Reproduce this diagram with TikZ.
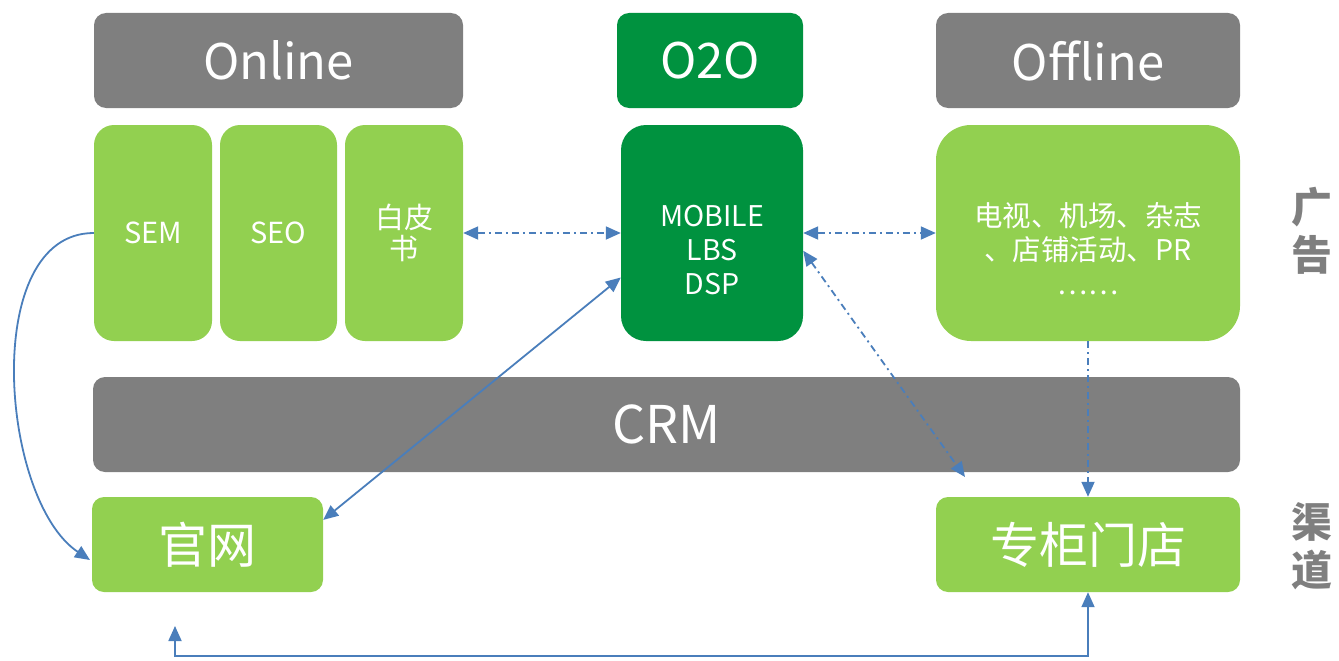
\documentclass[tikz,border=0pt]{standalone}
\usepackage{fontspec}
\setmainfont{Noto Sans CJK SC}
\usetikzlibrary{arrows.meta}

\definecolor{lgreen}{RGB}{146,208,80}
\definecolor{dgreen}{RGB}{0,146,63}
\definecolor{boxgray}{RGB}{127,127,127}
\definecolor{linkblue}{RGB}{74,126,187}

\tikzset{
    box/.style = {rounded corners=12pt, text=white, inner sep=0pt, align=center},
    head/.style = {box, fill=boxgray, minimum height=95pt, font=\fontsize{49}{52}\selectfont},
    tile/.style = {box, fill=lgreen, rounded corners=20pt, minimum width=118pt, minimum height=216pt,
        font=\fontsize{29}{31}\selectfont},
    chan/.style = {box, fill=lgreen, minimum height=95pt, font=\fontsize{49}{52}\selectfont},
    boxtext/.style = {text=white, inner sep=0pt, align=center, font=\fontsize{28.5}{34}\selectfont},
    side/.style = {text=boxgray, align=center, font=\fontsize{41}{48}\selectfont\bfseries},
    link/.style = {draw=linkblue, line width=1.8pt, >={Triangle[length=15pt,width=13pt]}},
    dashdot/.style = {dash pattern=on 7pt off 4pt on 2pt off 4pt}
}

\begin{document}
\begin{tikzpicture}[x=1pt, y=-1pt]
    \useasboundingbox (0,0) rectangle (1339,661);

    % top row
    \node[head, minimum width=369pt] (online) at (278.5,60.5) {Online};
    \node[head, fill=dgreen, minimum width=186pt] (o2o) at (710,60.5) {O2O};
    \node[head, minimum width=304pt] (offline) at (1088,60.5) {Offline};

    % ads
    \node[tile] (sem) at (153,233) {SEM};
    \node[tile, minimum width=117pt] (seo) at (278.5,233) {SEO};
    \node[tile] (wp) at (404,233) {白皮\\书};
    \node[box, fill=dgreen, rounded corners=25pt, minimum width=182pt, minimum height=216pt] (mobile) at (712,233) {};
    \node[boxtext] (mobiletext) at ([yshift=-17pt]mobile.center) {MOBILE\\LBS\\DSP};
    \node[box, fill=lgreen, rounded corners=35pt, minimum width=304pt, minimum height=216pt] (ads) at (1088,233) {};
    \node[boxtext] (adstext) at ([yshift=-16pt]ads.center) {电视、机场、杂志\\、店铺活动、PR\\……};

    \node[head, minimum width=1147pt, font=\fontsize{52}{56}\selectfont] (crm) at (666.5,424.5) {CRM};

    % channels
    \node[chan, minimum width=231pt] (gw) at (207.5,544.5) {官网};
    \node[chan, minimum width=304pt] (store) at (1088,544.5) {专柜门店};

    \node[side] (adlabel) at (1312,231) {广\\告};
    \node[side] (chlabel) at (1312,546) {渠\\道};

    \coordinate (crmse) at (965,477);
    \coordinate (gwlow) at (175,626);
    \coordinate (base) at (1088,656);

    \draw[link, ->] (sem.west) .. controls (-20,233) and (0,500) .. (90,560);
    \draw[link, dashdot, <->] (wp.east) -- (mobile.west);
    \draw[link, dashdot, <->] (mobile.east) -- (ads.west);
    \draw[link, <->] (mobile.206) -- (gw.12);
    \draw[link, dashdot, <->] (mobile.-11) -- (crmse);
    \draw[link, dashdot, ->] (ads.south) -- (store.north);
    \draw[link, <->] (gwlow) |- (base) -- (store.south);
\end{tikzpicture}
\end{document}
